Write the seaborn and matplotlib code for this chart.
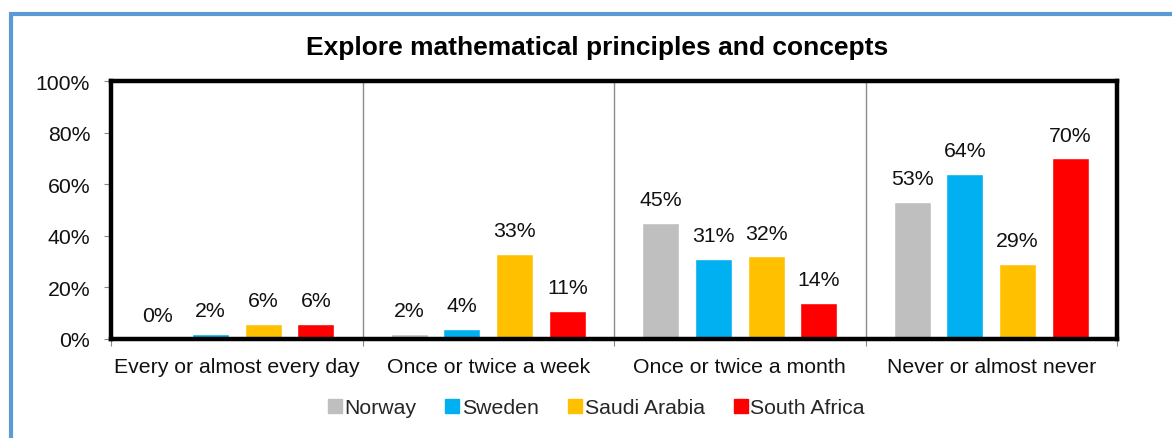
import matplotlib
matplotlib.use("Agg")
import matplotlib.pyplot as plt
from matplotlib.patches import Rectangle
from matplotlib.lines import Line2D
import pandas as pd
import seaborn as sns

categories = ["Every or almost every day", "Once or twice a week",
              "Once or twice a month", "Never or almost never"]
countries = ["Norway", "Sweden", "Saudi Arabia", "South Africa"]
norway = [0, 2, 45, 53]
sweden = [2, 4, 31, 64]
saudi_arabia = [6, 33, 32, 29]
south_africa = [6, 11, 14, 70]
colors = ["#BFBFBF", "#00B0F0", "#FFC000", "#FF0000"]
y_ticks = [0, 20, 40, 60, 80, 100]

rows = []
for country, vals in zip(countries, [norway, sweden, saudi_arabia, south_africa]):
    for cat, v in zip(categories, vals):
        rows.append({"category": cat, "country": country, "value": v})
df = pd.DataFrame(rows)

sns.set_theme(style="white")
plt.rcParams["font.family"] = ["Liberation Sans", "DejaVu Sans"]

FS = 15.3

fig = plt.figure(figsize=(11.72, 4.39), dpi=100)
ax = fig.add_axes([111 / 1172, 1 - 340 / 439, (1117 - 111) / 1172, (340 - 82) / 439])

sns.barplot(data=df, x="category", y="value", hue="country", order=categories,
            hue_order=countries, palette=colors, width=0.84, gap=0.3,
            saturation=1, ax=ax, legend=False)

for cont in ax.containers:
    ax.bar_label(cont, fmt="%d%%", padding=10, fontsize=FS, color="#111111")

ax.set_ylim(0, 100)
ax.set_xlim(-0.5, 3.5)
ax.set_yticks(y_ticks)
ax.set_yticklabels([f"{t}%" for t in y_ticks], fontsize=FS, color="#111111")
ax.set_xticks(range(len(categories)))
ax.set_xticklabels(categories, fontsize=FS, color="#111111")
ax.tick_params(axis="x", length=0, pad=13)
ax.tick_params(axis="y", length=5, width=0.8, color="#888888", direction="out",
               pad=10, left=True)
ax.set_xticks([-0.5, 0.5, 1.5, 2.5, 3.5], minor=True)
ax.tick_params(axis="x", which="minor", length=5, width=0.8, color="#888888",
               direction="out", bottom=True)
ax.set_xlabel("")
ax.set_ylabel("")

for x in [0.5, 1.5, 2.5]:
    ax.axvline(x, color="#8C8C8C", lw=1, zorder=0)

for side in ["top", "right", "left", "bottom"]:
    ax.spines[side].set_visible(True)
    ax.spines[side].set_color("black")
    ax.spines[side].set_linewidth(3.2)

fig.text(597 / 1172, 1 - 48 / 439, "Explore mathematical principles and concepts",
         ha="center", va="center", fontsize=19, fontweight="bold", color="black")

handles = [Line2D([0], [0], marker="s", linestyle="", markersize=10,
                  markerfacecolor=c, markeredgecolor=c) for c in colors]
fig.legend(handles, countries, loc="center", bbox_to_anchor=(0.509, 1 - 409 / 439),
           ncol=4, frameon=False, fontsize=FS, handlelength=0.6,
           handletextpad=0.15, columnspacing=1.4)

fig.patches.append(Rectangle((11 / 1172, -0.1), 1.2, 1 - 15 / 439 + 0.1,
                             transform=fig.transFigure, fill=False,
                             edgecolor="#5B9BD5", linewidth=3, zorder=-1))

fig.savefig("out.png", dpi=100, facecolor="white")
